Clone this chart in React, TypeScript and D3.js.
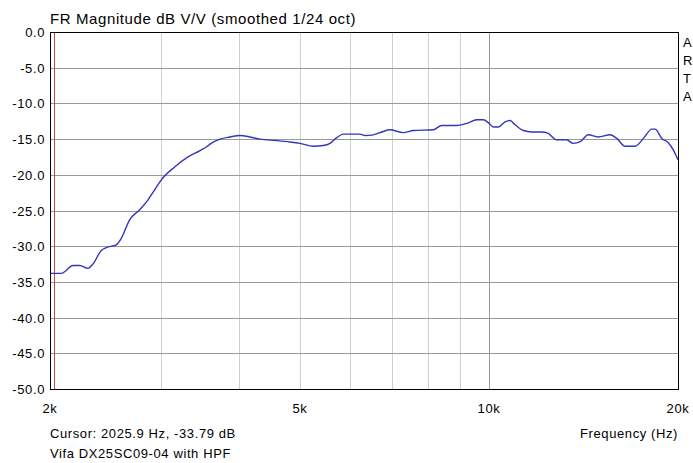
import * as d3 from "d3";

// FR magnitude readings (Hz, dB)
const freqs = [
  2000, 2084, 2177, 2230, 2298, 2341, 2414, 2459, 2550, 2597, 2678, 2779, 2865,
  2936, 3008, 3159, 3318, 3467, 3561, 3596, 3730, 3869, 4013, 4164, 4319, 4592,
  4822, 5001, 5252, 5448, 5584, 5723, 5863, 6009, 6233, 6349, 6545, 6750, 6958,
  7305, 7577, 8153, 8409, 8885, 9218, 9562, 9798, 9979, 10164, 10352, 10609,
  10806, 11006, 11346, 11690, 12128, 12425, 12812, 13292, 13619, 13960, 14392,
  14930, 15589, 15977, 16474, 17090, 17621, 18170, 18393, 18847, 19302, 19658,
  20000,
];
const magDb = [
  -33.8, -33.8, -32.7, -32.7, -33.1, -32.5, -30.6, -30.2, -29.8, -28.9, -26.3,
  -24.9, -23.5, -22.1, -20.7, -18.9, -17.5, -16.6, -16.0, -15.7, -15.0, -14.7,
  -14.5, -14.7, -15.0, -15.2, -15.4, -15.6, -16.0, -15.9, -15.6, -14.8, -14.3,
  -14.3, -14.3, -14.5, -14.4, -14.0, -13.7, -14.1, -13.8, -13.7, -13.1, -13.1,
  -12.8, -12.3, -12.3, -12.7, -13.3, -13.3, -12.6, -12.4, -13.0, -13.8, -14.0,
  -14.0, -14.2, -15.1, -15.1, -15.6, -15.4, -14.4, -14.7, -14.4, -14.9, -16.0,
  -16.0, -14.9, -13.6, -13.6, -14.9, -15.5, -16.5, -17.9,
];

const yTicks = [0, -5, -10, -15, -20, -25, -30, -35, -40, -45, -50];
const xGrid = [3000, 4000, 5000, 6000, 7000, 8000, 9000, 10000];
const xLabels = [
  { f: 2000, t: "2k" },
  { f: 5000, t: "5k" },
  { f: 10000, t: "10k" },
  { f: 20000, t: "20k" },
];
const cursorHz = 2025.9;
const sideLetters = ["A", "R", "T", "A"];

const W = 693;
const H = 463;
const left = 50;
const right = 678;
const top = 32;
const bottom = 389;
const font = "Arial, 'Liberation Sans', sans-serif";
const ls = 0.6; // glyphs in the original are spaced wider

export default function App() {
  const x = d3.scaleLog().domain([2000, 20000]).range([left, right]);
  const y = d3.scaleLinear().domain([-50, 0]).range([bottom, top]);

  const line = d3
    .line<number>()
    .x((_, i) => x(freqs[i]))
    .y((d) => y(d))
    .curve(d3.curveMonotoneX);

  return (
    <svg
      width={W}
      height={H}
      style={{ position: "absolute", left: 0, top: 0, background: "#fff" }}
      fontFamily={font}
    >
      <rect x={0} y={0} width={W} height={H} fill="#fff" />
      <text x={left} y={24} fontSize={15} letterSpacing={ls} fill="#000">
        FR Magnitude dB V/V (smoothed 1/24 oct)
      </text>

      {/* grid */}
      {xGrid.map((f) => (
        <line
          key={f}
          x1={Math.round(x(f)) + 0.5}
          x2={Math.round(x(f)) + 0.5}
          y1={top}
          y2={bottom}
          stroke={f === 10000 ? "#999" : "#cfcfcf"}
          strokeWidth={1}
        />
      ))}
      {yTicks.map((v) => (
        <line
          key={v}
          x1={left}
          x2={right}
          y1={Math.round(y(v)) + 0.5}
          y2={Math.round(y(v)) + 0.5}
          stroke="#999"
          strokeWidth={1}
        />
      ))}

      {/* cursor */}
      <line
        x1={Math.round(x(cursorHz)) + 0.5}
        x2={Math.round(x(cursorHz)) + 0.5}
        y1={top}
        y2={bottom}
        stroke="#c04848"
        strokeWidth={1}
      />

      <path
        d={line(magDb) ?? ""}
        fill="none"
        stroke="#3535bd"
        strokeWidth={1.4}
      />

      <rect
        x={left + 0.5}
        y={top + 0.5}
        width={right - left}
        height={bottom - top}
        fill="none"
        stroke="#000"
        strokeWidth={1}
      />

      {yTicks.map((v) => (
        <text
          key={v}
          x={left - 5}
          y={y(v) + 5}
          fontSize={13}
          letterSpacing={ls}
          textAnchor="end"
          fill="#000"
        >
          {v.toFixed(1)}
        </text>
      ))}
      {xLabels.map((d) => (
        <text
          key={d.t}
          x={x(d.f)}
          y={413}
          fontSize={13}
          letterSpacing={ls}
          textAnchor="middle"
          fill="#000"
        >
          {d.t}
        </text>
      ))}

      {sideLetters.map((c, i) => (
        <text key={i} x={683} y={47 + i * 18} fontSize={13} fill="#000">
          {c}
        </text>
      ))}

      <text x={left} y={438} fontSize={13} letterSpacing={ls} fill="#000">
        Cursor: 2025.9 Hz, -33.79 dB
      </text>
      <text
        x={right}
        y={438}
        fontSize={13}
        letterSpacing={ls}
        textAnchor="end"
        fill="#000"
      >
        Frequency (Hz)
      </text>
      <text x={left} y={458} fontSize={13} letterSpacing={ls} fill="#000">
        Vifa DX25SC09-04 with HPF
      </text>
    </svg>
  );
}
